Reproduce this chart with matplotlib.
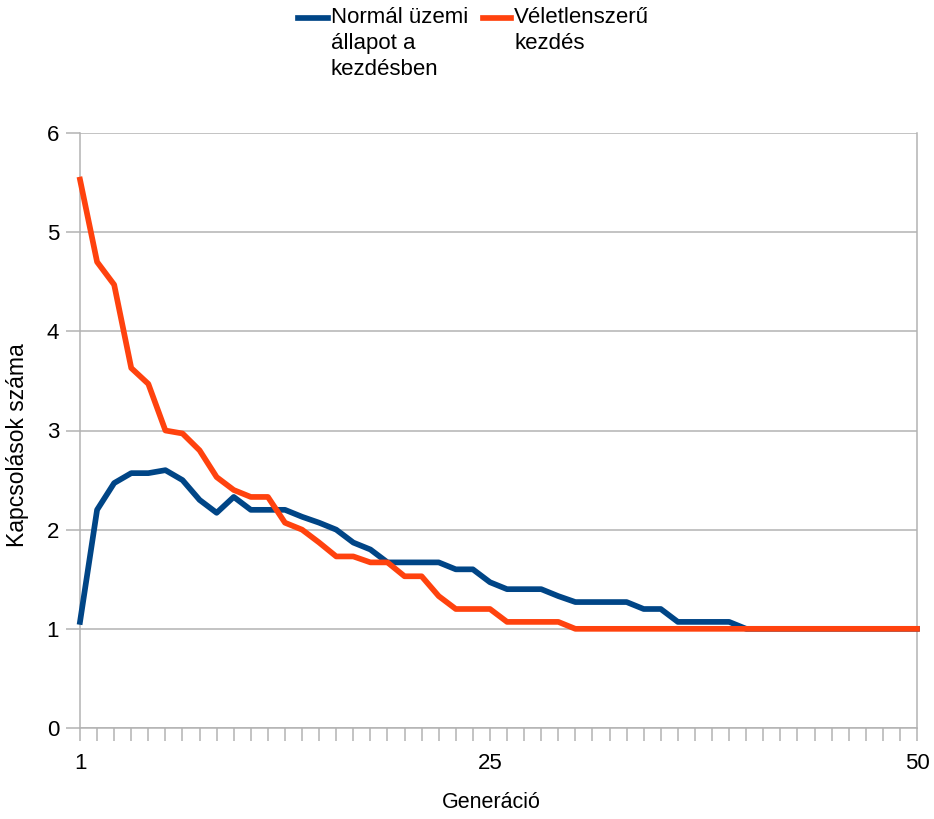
import numpy as np
import matplotlib
matplotlib.use("Agg")
import matplotlib.pyplot as plt
from matplotlib.lines import Line2D

plt.rcParams['font.family'] = ['Liberation Sans', 'DejaVu Sans']

# switching count per generation, averaged over the runs
generations = np.arange(1, 51)
normal_start = [1.07, 2.20, 2.47, 2.57, 2.57, 2.60, 2.50, 2.30, 2.17, 2.33,
                2.20, 2.20, 2.20, 2.13, 2.07, 2.00, 1.87, 1.80, 1.67, 1.67,
                1.67, 1.67, 1.60, 1.60, 1.47, 1.40, 1.40, 1.40, 1.33, 1.27,
                1.27, 1.27, 1.27, 1.20, 1.20, 1.07, 1.07, 1.07, 1.07, 1.00,
                1.00, 1.00, 1.00, 1.00, 1.00, 1.00, 1.00, 1.00, 1.00, 1.00]
random_start = [5.53, 4.70, 4.47, 3.63, 3.47, 3.00, 2.97, 2.80, 2.53, 2.40,
                2.33, 2.33, 2.07, 2.00, 1.87, 1.73, 1.73, 1.67, 1.67, 1.53,
                1.53, 1.33, 1.20, 1.20, 1.20, 1.07, 1.07, 1.07, 1.07, 1.00,
                1.00, 1.00, 1.00, 1.00, 1.00, 1.00, 1.00, 1.00, 1.00, 1.00,
                1.00, 1.00, 1.00, 1.00, 1.00, 1.00, 1.00, 1.00, 1.00, 1.00]
labels = ["Normál üzemi\nállapot a\nkezdésben", "Véletlenszerű\nkezdés"]
colors = ["#004586", "#ff420e"]
x_ticks = [1, 25, 50]

W, H = 934, 819
fig = plt.figure(figsize=(W / 100, H / 100), dpi=100)
ax = fig.add_axes([80 / W, 1 - 728 / H, (917 - 80) / W, (728 - 133) / H])

grid_c = "#b3b3b3"
ax.plot(generations, normal_start, color=colors[0], lw=4.1,
        solid_joinstyle='round', zorder=3, clip_on=False)
ax.plot(generations, random_start, color=colors[1], lw=4.1,
        solid_joinstyle='round', zorder=4, clip_on=False)

ax.set_xlim(1, 50)
ax.set_ylim(0, 6)
ax.set_yticks(range(0, 7))
ax.set_xticks(x_ticks)
ax.set_xticks(generations, minor=True)
ax.yaxis.grid(True, color=grid_c, lw=1.1)
ax.set_axisbelow(True)

for side in ['left', 'bottom', 'right']:
    ax.spines[side].set_color(grid_c)
    ax.spines[side].set_linewidth(1.1)
ax.spines['top'].set_visible(False)

ax.tick_params(axis='y', which='both', length=10, width=1.1, color=grid_c,
               labelsize=16, pad=5)
ax.tick_params(axis='x', which='both', length=9, width=1.1, color=grid_c,
               labelsize=16, pad=9)
ax.tick_params(axis='y', which='both', right=False)

fig.text(18 / W, 1 - 445 / H, "Kapcsolások száma", rotation=90,
         ha='center', va='center', fontsize=16.5)
fig.text(491 / W, 1 - 803 / H, "Generáció", ha='center', va='center',
         fontsize=15.5)

# legend drawn by hand so the swatch sits on the first text line
legend_x = [(298, 331), (483, 514)]
for (x0, tx), lab, c in zip(legend_x, labels, colors):
    fig.add_artist(Line2D([x0 / W, (tx - 3) / W], [1 - 18 / H, 1 - 18 / H],
                          color=c, lw=4.1, transform=fig.transFigure))
    fig.text(tx / W, 1 - 7 / H, lab, ha='left', va='top', fontsize=16,
             linespacing=1.3)

fig.savefig("out.png", dpi=100)
